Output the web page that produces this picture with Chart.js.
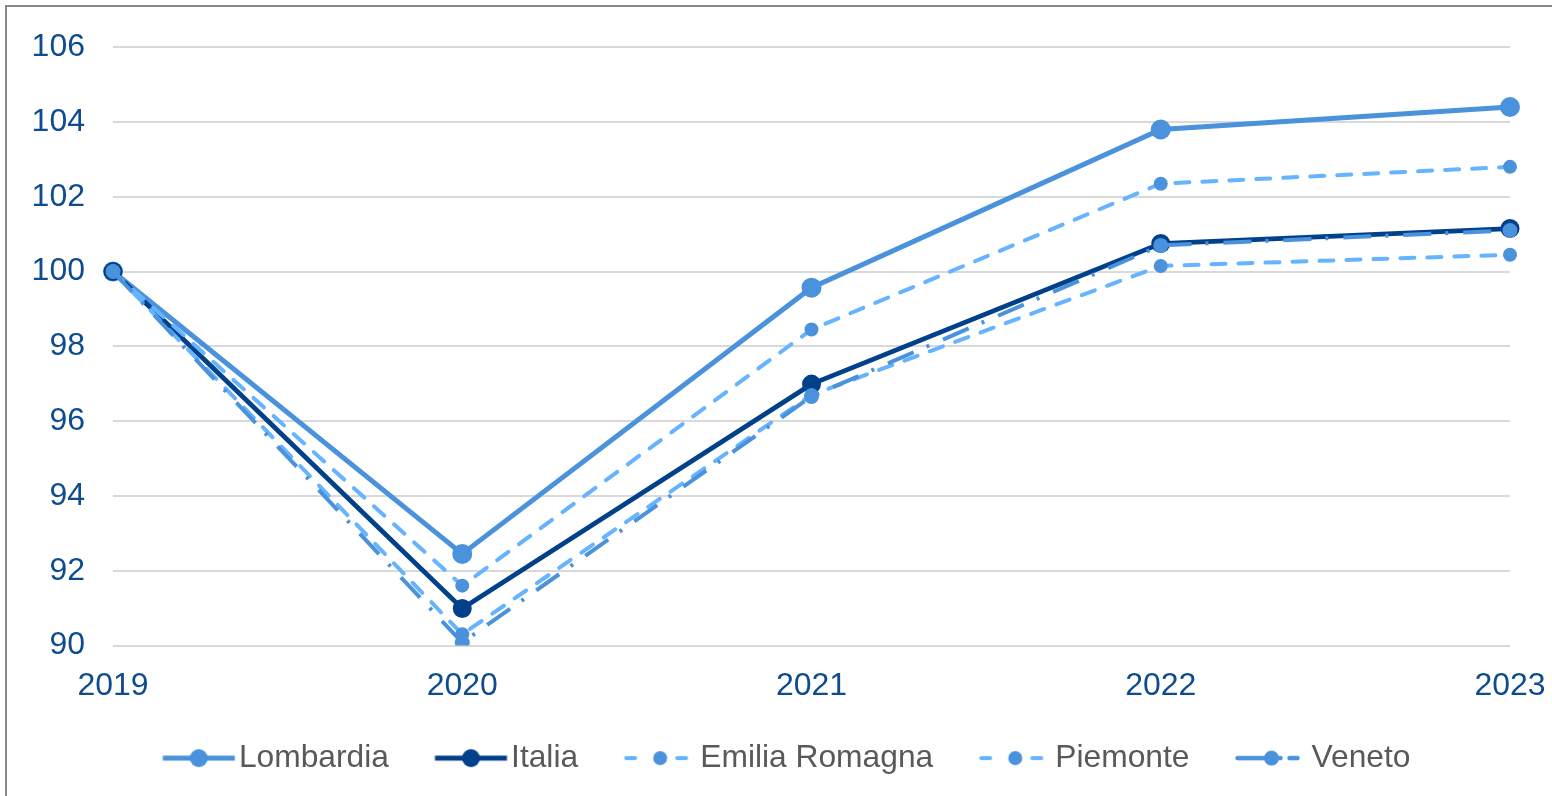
<html lang="it">

<head>
    <meta charset="UTF-8">
    <title>Indice 2019 = 100</title>
    <style>
        body {
            margin: 0;
            padding: 0;
            background-color: #ffffff;
            overflow: hidden;
        }

        .frame {
            position: absolute;
            left: 5px;
            top: 5px;
            width: 1600px;
            height: 900px;
            border: 2px solid #888888;
            pointer-events: none;
        }

        .chart-box {
            position: absolute;
            left: 0;
            top: 0;
            width: 1552px;
            height: 796px;
        }
    </style>
</head>

<body>
    <div class="chart-box">
        <canvas id="regionChart" width="1552" height="796"></canvas>
    </div>
    <div class="frame"></div>

    <script src="https://cdn.jsdelivr.net/npm/chart.js"></script>
    <script>
        // Anni e valori (indice, 2019 = 100)
        const years = ['2019', '2020', '2021', '2022', '2023'];
        const lombardia = [100, 92.45, 99.57, 103.8, 104.4];
        const italia = [100, 90.99, 96.99, 100.75, 101.15];
        const emiliaRomagna = [100, 91.6, 98.45, 102.35, 102.8];
        const piemonte = [100, 90.3, 96.7, 100.15, 100.45];
        const veneto = [100, 90.08, 96.66, 100.7, 101.1];

        const yTicks = { min: 90, max: 106, step: 2 };

        const FONT = "'Liberation Sans', Arial, sans-serif";
        const FONT_SIZE = 32;
        const midBlue = '#4a92db';
        const navy = '#00418a';
        const lightBlue = '#66b3ff';
        const dashShort = [14, 13];
        const dashDot = [28, 14, 3, 15];

        // Legend symbol: line piece with the marker in the middle.
        // The canvas is wider than the symbol so the legend spacing looks like the original.
        function legendSymbol(color, width, dash, markerColor, radius, markerBorder) {
            const c = document.createElement('canvas');
            c.width = 150;
            c.height = 24;
            const ctx = c.getContext('2d');
            const x0 = 61.5, x1 = 133.5, mid = (x0 + x1) / 2;
            ctx.strokeStyle = color;
            ctx.lineWidth = width;
            ctx.lineCap = dash.length ? 'round' : 'butt';
            ctx.setLineDash(dash);
            ctx.beginPath();
            ctx.moveTo(x0 + (dash.length ? 2 : 0), 12);
            ctx.lineTo(x1 - (dash.length ? 2 : 0), 12);
            ctx.stroke();
            ctx.setLineDash([]);
            ctx.beginPath();
            ctx.arc(mid, 12, radius, 0, Math.PI * 2);
            ctx.fillStyle = markerColor;
            ctx.fill();
            if (markerBorder) {
                ctx.strokeStyle = markerBorder;
                ctx.lineWidth = 2;
                ctx.stroke();
            }
            return c;
        }

        const legendImages = [
            legendSymbol(midBlue, 5, [], midBlue, 9),
            legendSymbol(navy, 5, [], navy, 9),
            legendSymbol(lightBlue, 4, [9, 42, 9], midBlue, 7),
            legendSymbol(lightBlue, 4, [9, 42, 9], midBlue, 7),
            legendSymbol(midBlue, 4.5, [33, 9, 1, 9, 8, 50], midBlue, 7.5)
        ];

        const ctx = document.getElementById('regionChart').getContext('2d');
        const regionChart = new Chart(ctx, {
            type: 'line',
            data: {
                labels: years,
                datasets: [
                    {
                        label: 'Lombardia',
                        data: lombardia,
                        borderColor: midBlue,
                        backgroundColor: midBlue,
                        borderWidth: 5,
                        pointRadius: 10,
                        pointBorderWidth: 0,
                        order: 4
                    },
                    {
                        label: 'Italia',
                        data: italia,
                        borderColor: navy,
                        backgroundColor: navy,
                        borderWidth: 4.8,
                        pointRadius: 8.5,
                        pointBorderWidth: 2,
                        pointBorderColor: navy,
                        order: 3
                    },
                    {
                        label: 'Emilia Romagna',
                        data: emiliaRomagna,
                        borderColor: lightBlue,
                        backgroundColor: midBlue,
                        borderWidth: 4,
                        borderDash: dashShort,
                        borderCapStyle: 'round',
                        pointRadius: 7,
                        pointBorderWidth: 0,
                        order: 2
                    },
                    {
                        label: 'Piemonte',
                        data: piemonte,
                        borderColor: lightBlue,
                        backgroundColor: midBlue,
                        borderWidth: 4,
                        borderDash: dashShort,
                        borderCapStyle: 'round',
                        pointRadius: 7,
                        pointBorderWidth: 0,
                        order: 1
                    },
                    {
                        label: 'Veneto',
                        data: veneto,
                        borderColor: midBlue,
                        backgroundColor: midBlue,
                        borderWidth: 4,
                        borderDash: dashDot,
                        pointRadius: 7.5,
                        pointBorderWidth: 0,
                        order: 0
                    }
                ]
            },
            options: {
                responsive: false,
                animation: false,
                layout: {
                    padding: { left: 30, right: 42, top: 45, bottom: 12 }
                },
                scales: {
                    x: {
                        offset: false,
                        grid: { display: false, drawTicks: true, tickLength: 17 },
                        border: { display: false },
                        ticks: {
                            color: '#0e4c8f',
                            padding: 4,
                            maxRotation: 0,
                            font: { family: FONT, size: FONT_SIZE }
                        },
                        afterFit: function (scale) {
                            scale.height = 84;
                        }
                    },
                    y: {
                        min: yTicks.min,
                        max: yTicks.max,
                        grid: {
                            color: '#d9d9d9',
                            lineWidth: 2,
                            drawTicks: false
                        },
                        border: { display: false },
                        ticks: {
                            stepSize: yTicks.step,
                            color: '#0e4c8f',
                            padding: 28,
                            font: { family: FONT, size: FONT_SIZE }
                        },
                        afterFit: function (scale) {
                            scale.width = 83;
                        }
                    }
                },
                plugins: {
                    tooltip: { enabled: false },
                    legend: {
                        position: 'bottom',
                        labels: {
                            usePointStyle: true,
                            pointStyleWidth: 93.5,
                            padding: 12.75,
                            color: '#595959',
                            font: { family: FONT, size: 31.75 },
                            sort: (a, b) => a.datasetIndex - b.datasetIndex,
                            generateLabels: function (chart) {
                                const items = Chart.defaults.plugins.legend.labels.generateLabels(chart);
                                items.forEach(item => {
                                    item.pointStyle = legendImages[item.datasetIndex];
                                });
                                return items;
                            }
                        }
                    }
                }
            }
        });
    </script>

</body>

</html>
